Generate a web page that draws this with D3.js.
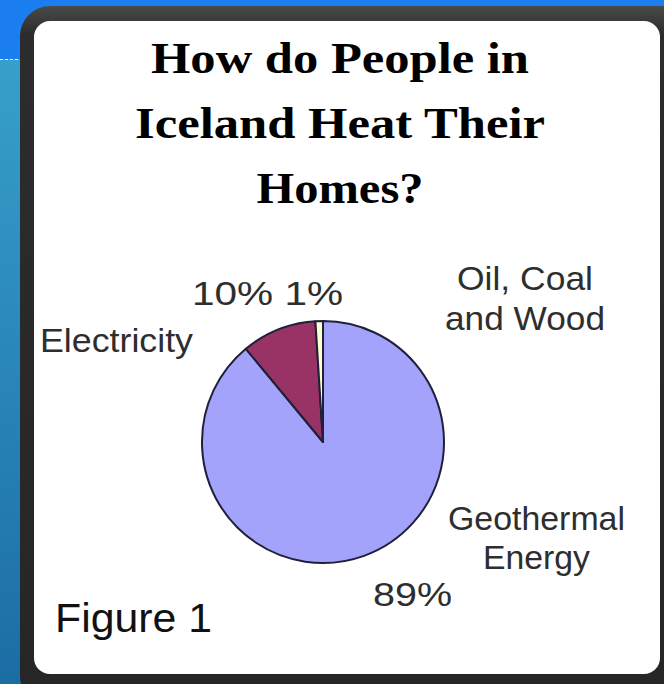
<!DOCTYPE html>
<html>
<head>
<meta charset="utf-8">
<script src="https://cdn.jsdelivr.net/npm/d3@7"></script>
<style>
  html, body { margin: 0; padding: 0; background: #fff; }
  svg { display: block; }
</style>
</head>
<body>
<svg id="chart" width="664" height="684"></svg>
<script>
// ---- data ----
const categories = ["Geothermal Energy", "Electricity", "Oil, Coal and Wood"];
const values = [89, 10, 1];
const percentLabels = ["89%", "10%", "1%"];
const titleLines = ["How do People in", "Iceland Heat Their", "Homes?"];
const figureLabel = "Figure 1";

// ---- styles / layout ----
const sliceColors = ["#a3a3fb", "#993366", "#ffffcc"];
const W = 664, H = 684;
const svg = d3.select("#chart");
const defs = svg.append("defs");

// background
const bg = defs.append("linearGradient").attr("id", "bg").attr("x1", 0).attr("y1", 0).attr("x2", 0).attr("y2", 1);
bg.append("stop").attr("offset", "0%").attr("stop-color", "#3aa4ce");
bg.append("stop").attr("offset", "100%").attr("stop-color", "#1b6da4");
svg.append("rect").attr("width", W).attr("height", H).attr("fill", "url(#bg)");
svg.append("rect").attr("width", W).attr("height", 59).attr("fill", "#1a7ef0");
svg.append("line").attr("x1", 0).attr("x2", 22).attr("y1", 59.5).attr("y2", 59.5)
  .attr("stroke", "#ffffff").attr("stroke-width", 1.2).attr("stroke-dasharray", "3,2");

// frame
const fg = defs.append("linearGradient").attr("id", "frame").attr("x1", 0).attr("y1", 0).attr("x2", 0).attr("y2", 1);
fg.append("stop").attr("offset", "0%").attr("stop-color", "#4a4a4a");
fg.append("stop").attr("offset", "4%").attr("stop-color", "#2c2c2c");
fg.append("stop").attr("offset", "100%").attr("stop-color", "#262626");
svg.append("rect").attr("x", 20).attr("y", 6).attr("width", 680).attr("height", 700)
  .attr("rx", 30).attr("fill", "url(#frame)");
svg.append("rect").attr("x", 34).attr("y", 21).attr("width", 626).attr("height", 653)
  .attr("rx", 16).attr("fill", "#ffffff");

// title
const titleY = [73, 138, 203];
const titleW = [378, 410, 167];
svg.append("g").selectAll("text").data(titleLines).join("text")
  .attr("x", 340).attr("y", (d, i) => titleY[i])
  .attr("text-anchor", "middle")
  .attr("font-family", "'Liberation Serif', 'Times New Roman', serif")
  .attr("font-weight", "bold").attr("font-size", 44)
  .attr("textLength", (d, i) => titleW[i]).attr("lengthAdjust", "spacingAndGlyphs")
  .attr("fill", "#000").text(d => d);

// pie
const cx = 323, cy = 442, r = 121;
const pie = d3.pie().sort(null).value(d => d.value);
const arcs = pie(categories.map((c, i) => ({ name: c, value: values[i] })));
const arc = d3.arc().innerRadius(0).outerRadius(r);
svg.append("g").attr("transform", `translate(${cx},${cy})`)
  .selectAll("path").data(arcs).join("path")
  .attr("d", arc)
  .attr("fill", (d, i) => sliceColors[i])
  .attr("stroke", "#20203a").attr("stroke-width", 2)
  .attr("stroke-linejoin", "round");

// labels
const labelFont = "'Liberation Sans', Arial, sans-serif";
const labels = [
  { t: percentLabels[1] + " " + percentLabels[2], x: 192, y: 305, w: 151 },
  { t: categories[1], x: 40, y: 352, w: 153 },
  { t: "Oil, Coal", x: 457, y: 290, w: 136 },
  { t: "and Wood", x: 445, y: 330, w: 160 },
  { t: "Geothermal", x: 448, y: 530, w: 177 },
  { t: "Energy", x: 483, y: 569, w: 107 },
  { t: percentLabels[0], x: 373, y: 606, w: 79 }
];
svg.append("g").selectAll("text").data(labels).join("text")
  .attr("x", d => d.x).attr("y", d => d.y)
  .attr("font-family", labelFont).attr("font-size", 33)
  .attr("textLength", d => d.w).attr("lengthAdjust", "spacingAndGlyphs")
  .attr("fill", "#2e2e2e").text(d => d.t);

svg.append("text").attr("x", 55).attr("y", 632)
  .attr("font-family", labelFont).attr("font-size", 40)
  .attr("textLength", 157).attr("lengthAdjust", "spacingAndGlyphs")
  .attr("fill", "#111").text(figureLabel);
</script>
</body>
</html>
